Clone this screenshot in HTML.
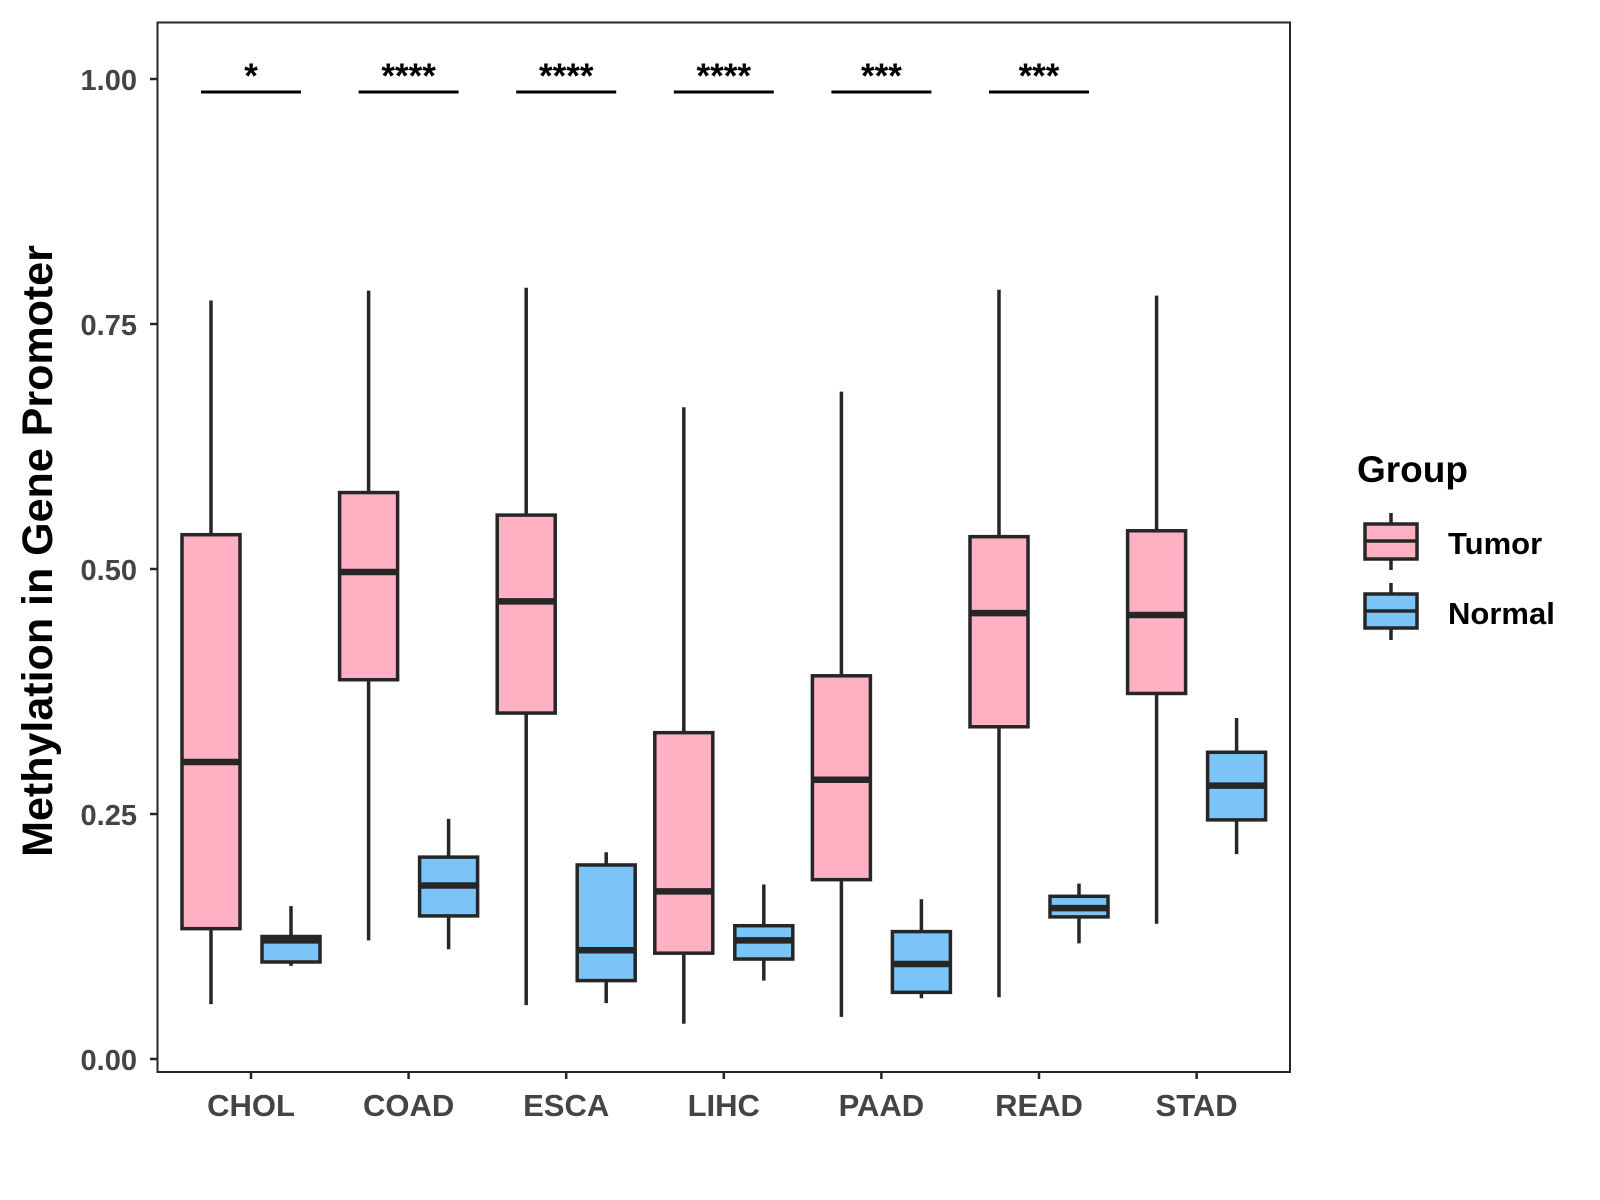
<!DOCTYPE html>
<html><head><meta charset="utf-8"><style>
html,body{margin:0;padding:0;background:#fff;}
svg{display:block;font-family:"Liberation Sans",sans-serif;font-weight:bold;}
</style></head><body>
<svg id="chart" width="1600" height="1200" viewBox="0 0 1600 1200">
<rect x="0" y="0" width="1600" height="1200" fill="#fff"/>
<g id="marks"></g>
<rect x="157.5" y="22.5" width="1132.5" height="1049.5" fill="none" stroke="#262626" stroke-width="2"/>
<g id="axes"></g>
<text x="52" y="551" font-size="43" fill="#000" text-anchor="middle" transform="rotate(-90 52 551)">Methylation in Gene Promoter</text>
<g>
<text x="1357" y="482" font-size="37" fill="#000">Group</text>
<g>
<line x1="1391" y1="513" x2="1391" y2="570" stroke="#262626" stroke-width="3.5"/>
<rect x="1365" y="524" width="52" height="35" fill="#FFB1C4" stroke="#262626" stroke-width="3.5"/>
<line x1="1365" y1="541" x2="1417" y2="541" stroke="#262626" stroke-width="3.5"/>
<text x="1448" y="554" font-size="31" fill="#000">Tumor</text>
</g>
<g>
<line x1="1391" y1="583" x2="1391" y2="640" stroke="#262626" stroke-width="3.5"/>
<rect x="1365" y="594" width="52" height="34" fill="#7AC4F8" stroke="#262626" stroke-width="3.5"/>
<line x1="1365" y1="611" x2="1417" y2="611" stroke="#262626" stroke-width="3.5"/>
<text x="1448" y="624" font-size="31" fill="#000">Normal</text>
</g>
</g>
</svg>
<script>
const categories = ["CHOL","COAD","ESCA","LIHC","PAAD","READ","STAD"];
// [whiskerLow, q1, median, q3, whiskerHigh]
const tumorStats = [
 [0.056,0.133,0.303,0.535,0.774],
 [0.121,0.387,0.497,0.578,0.784],
 [0.055,0.353,0.467,0.555,0.787],
 [0.036,0.108,0.171,0.333,0.665],
 [0.043,0.183,0.285,0.391,0.681],
 [0.063,0.339,0.455,0.533,0.785],
 [0.138,0.373,0.453,0.539,0.779]
];
const normalStats = [
 [0.095,0.099,0.121,0.125,0.156],
 [0.112,0.146,0.177,0.206,0.245],
 [0.057,0.080,0.111,0.198,0.211],
 [0.080,0.102,0.121,0.136,0.178],
 [0.062,0.068,0.097,0.130,0.163],
 [0.118,0.145,0.154,0.166,0.179],
 [0.209,0.244,0.279,0.313,0.348]
];
const sigLabels = ["*","****","****","****","***","***",""];
const yTicks = [0,0.25,0.5,0.75,1.0];
const yTickLabels = ["0.00","0.25","0.50","0.75","1.00"];

const NS="http://www.w3.org/2000/svg";
function yScale(v){return 1059 - v*980;}
function xScale(i){return 251 + 157.6*i;}
const marks=document.getElementById('marks');
const axes=document.getElementById('axes');
function mk(tag,attrs,parent){const e=document.createElementNS(NS,tag);for(const k in attrs)e.setAttribute(k,attrs[k]);parent.appendChild(e);return e;}
const stroke="#262626";
function drawBox(s,cx,fill,name){
  const g=mk('g',{},marks);
  
  
  const hw=29;
  mk('line',{x1:cx,x2:cx,y1:yScale(s[4]),y2:yScale(s[0]),stroke:stroke,'stroke-width':3.5},g);
  mk('rect',{x:cx-hw,y:yScale(s[3]),width:hw*2,height:yScale(s[1])-yScale(s[3]),fill:fill,stroke:stroke,'stroke-width':3.5},g);
  mk('line',{x1:cx-hw,x2:cx+hw,y1:yScale(s[2]),y2:yScale(s[2]),stroke:stroke,'stroke-width':6.5},g);
}
categories.forEach((c,i)=>{
  const cx=xScale(i);
  drawBox(tumorStats[i],cx-40,"#FFB1C4","box-tumor-"+c.toLowerCase());
  drawBox(normalStats[i],cx+40,"#7AC4F8","box-normal-"+c.toLowerCase());
  if(sigLabels[i]){
    const g=mk('g',{},marks);
    
    
    mk('line',{x1:cx-50,x2:cx+50,y1:92,y2:92,stroke:'#000','stroke-width':3},g);
    const t=mk('text',{x:cx,y:88,'font-size':35,'text-anchor':'middle',fill:'#000'},g);
    t.textContent=sigLabels[i];
  }
  mk('line',{x1:cx,x2:cx,y1:1072,y2:1079,stroke:stroke,'stroke-width':2.5},axes);
  const t=mk('text',{x:cx,y:1116,'font-size':31,'text-anchor':'middle',fill:'#444'},axes);
  
  
  t.textContent=c;
});
yTicks.forEach((v,i)=>{
  const y=yScale(v);
  mk('line',{x1:150,x2:157,y1:y,y2:y,stroke:stroke,'stroke-width':2.5},axes);
  const t=mk('text',{x:137,y:y+11,'font-size':29,'text-anchor':'end',fill:'#444'},axes);
  
  
  t.textContent=yTickLabels[i];
});
</script>
</body></html>
